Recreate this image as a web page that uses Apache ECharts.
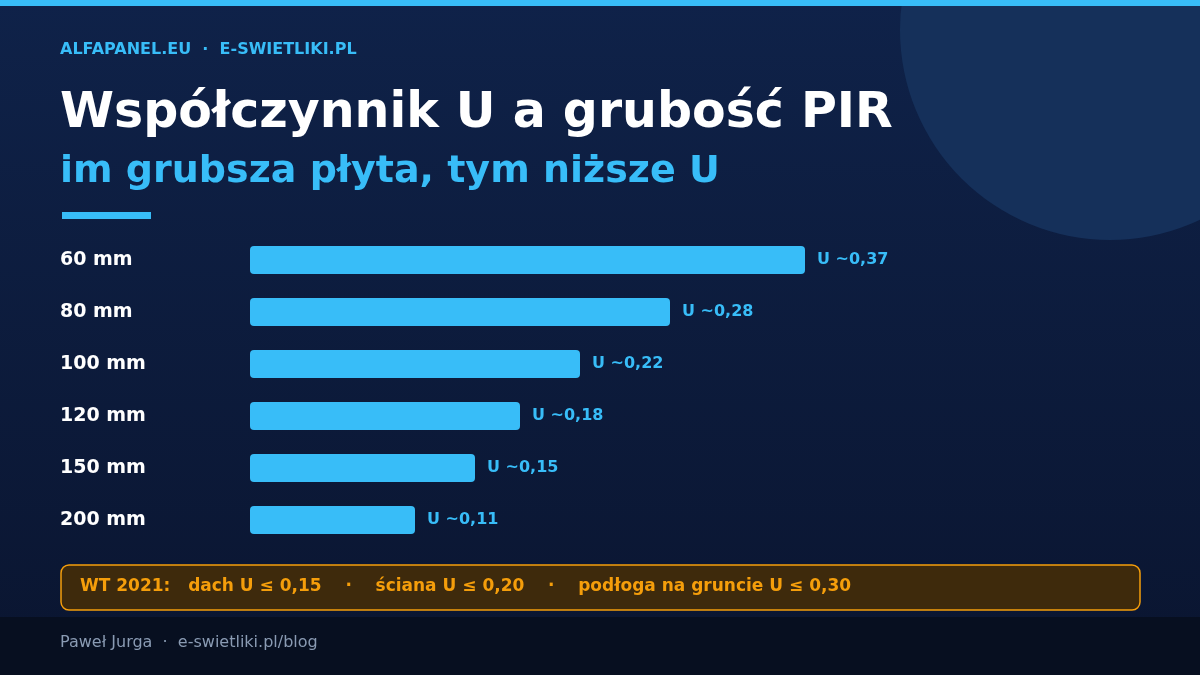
<!DOCTYPE html>
<html><head><meta charset="utf-8">
<script src="https://cdn.jsdelivr.net/npm/echarts@6/dist/echarts.min.js"></script>
<style>html,body{margin:0;padding:0;background:#0b1733}#c{width:1200px;height:675px}</style>
</head><body><div id="c"></div>
<script>
const categories = ['60 mm','80 mm','100 mm','120 mm','150 mm','200 mm'];
const uValues = [0.37,0.28,0.22,0.18,0.15,0.11];
const uLabels = ['U ~0,37','U ~0,28','U ~0,22','U ~0,18','U ~0,15','U ~0,11'];
const F = 'DejaVu Sans';
const chart = echarts.init(document.getElementById('c'));
chart.setOption({
  backgroundColor: new echarts.graphic.LinearGradient(0,0,0,1,[{offset:0,color:'#0f2249'},{offset:1,color:'#0a1530'}]),
  animation:false,
  graphic:[
    {type:'circle',shape:{cx:1110,cy:30,r:210},style:{fill:'#15305a'},z:0},
    {type:'rect',shape:{x:0,y:0,width:1200,height:6},style:{fill:'#38bdf8'}},
    {type:'text',left:60,top:42,style:{text:'ALFAPANEL.EU  ·  E-SWIETLIKI.PL',fill:'#38bdf8',font:'bold 16px '+F}},
    {type:'text',left:60,top:90,style:{text:'Współczynnik U a grubość PIR',fill:'#ffffff',font:'bold 49px '+F}},
    {type:'text',left:60,top:153,style:{text:'im grubsza płyta, tym niższe U',fill:'#38bdf8',font:'bold 38px '+F}},
    {type:'rect',shape:{x:62,y:212,width:89,height:7},style:{fill:'#38bdf8'}},
    {type:'rect',shape:{x:61,y:565,width:1079,height:45,r:8},style:{fill:'#3e2a0c',stroke:'#f59e0b',lineWidth:1.5}},
    {type:'text',left:80,top:578,style:{text:'WT 2021:   dach U ≤ 0,15    ·    ściana U ≤ 0,20    ·    podłoga na gruncie U ≤ 0,30',fill:'#f59e0b',font:'bold 17px '+F}},
    {type:'rect',shape:{x:0,y:617,width:1200,height:58},style:{fill:'#070f20'}},
    {type:'text',left:60,top:635,style:{text:'Paweł Jurga  ·  e-swietliki.pl/blog',fill:'#8a9bb3',font:'16px '+F}}
  ],
  grid:{left:250,right:50,top:234,height:312},
  xAxis:{type:'value',min:0,max:0.6,show:false},
  yAxis:{type:'category',inverse:true,data:categories,axisLine:{show:false},axisTick:{show:false},
    axisLabel:{align:'left',margin:190,color:'#ffffff',fontFamily:F,fontWeight:'bold',fontSize:19}},
  series:[{type:'bar',data:uValues,barWidth:28,itemStyle:{color:'#38bdf8',borderRadius:4},
    label:{show:true,position:'right',distance:12,color:'#38bdf8',fontFamily:F,fontWeight:'bold',fontSize:16,
      formatter:p=>uLabels[p.dataIndex]}}]
});
</script></body></html>
